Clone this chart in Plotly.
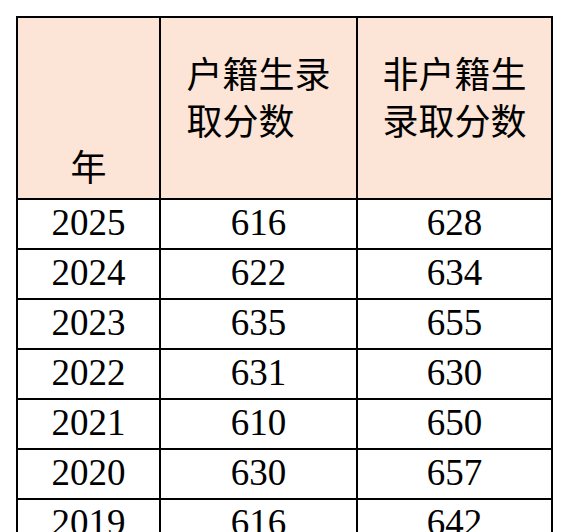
import plotly.graph_objects as go

sp = "<span style='font-size:14px'> </span><br>"
headers = [sp + sp + "<br>年", sp + "户籍生录<br>取分数", sp + "非户籍生<br>录取分数"]
years = ["2025", "2024", "2023", "2022", "2021", "2020", "2019"]
local = [616, 622, 635, 631, 610, 630, 616]
nonlocal_ = [628, 634, 655, 630, 650, 657, 642]

fig = go.Figure(go.Table(
    columnwidth=[143, 197, 195],
    header=dict(values=headers, fill_color="#FCE4D6", line=dict(color="black", width=2),
                align="center", height=148,
                font=dict(family="Noto Sans CJK SC", size=36, color="black")),
    cells=dict(values=[years, local, nonlocal_], fill_color="white",
               line=dict(color="black", width=2), align="center", height=50,
               font=dict(family="Liberation Serif", size=37, color="black")),
))
fig.update_layout(width=568, height=532, margin=dict(l=9, r=24, t=9, b=0),
                  paper_bgcolor="white")
fig.write_html("out.html")
